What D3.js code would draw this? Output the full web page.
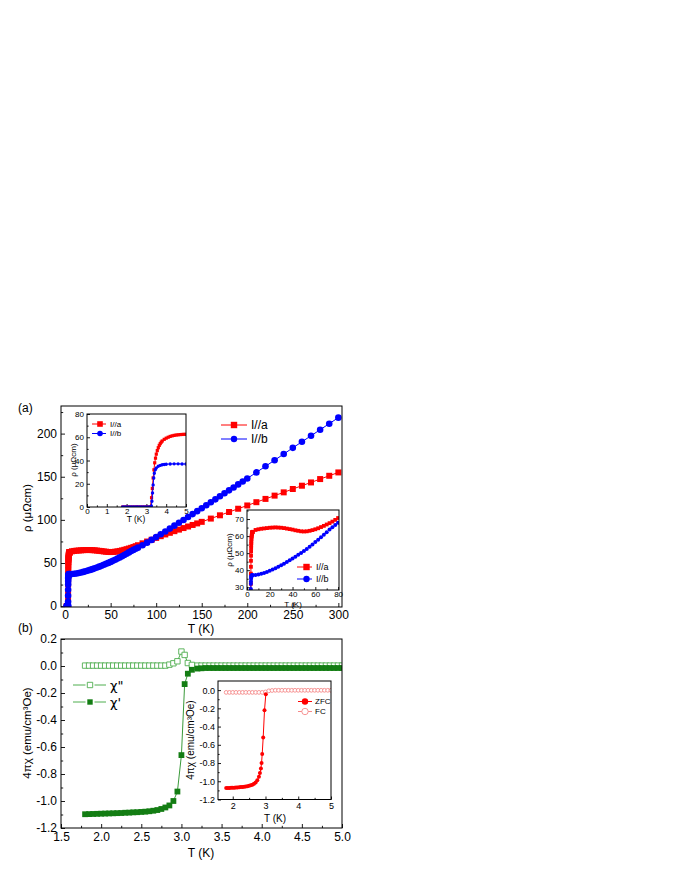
<!DOCTYPE html>
<html>
<head>
<meta charset="utf-8">
<script src="https://cdn.jsdelivr.net/npm/d3@7"></script>
<style>
  body { margin: 0; background: #fff; }
  svg { display: block; font-family: Arial, "Liberation Sans", sans-serif; }
</style>
</head>
<body>
<svg id="chart" width="680" height="880"></svg>
<script>
// ---- panel (a): resistivity, I//a (red) and I//b (blue) ----
const tA = [1.8, 1.9, 2.0, 2.1, 2.2, 2.3, 2.4, 2.5, 2.6, 2.7, 2.8, 2.9, 3.0, 3.1, 3.2,
  3.26, 3.3, 3.34, 3.38, 3.42, 3.46, 3.5, 3.55, 3.6, 3.65, 3.7, 3.75, 3.8, 3.9, 4.0,
  4.1, 4.2, 4.3, 4.4, 4.5, 4.6, 4.7, 4.8, 4.9, 5.0,
  7.5, 10, 12.5, 15, 17.5, 20, 22.5, 25, 27.5, 30, 32.5, 35, 37.5, 40, 42.5, 45, 47.5, 50,
  52.5, 55, 57.5, 60, 62.5, 65, 67.5, 70, 72.5, 75, 77.5, 80,
  85, 90, 95, 100, 105, 110, 115, 120, 125, 130, 135, 140, 145, 150,
  160, 170, 180, 190, 200, 210, 220, 230, 240, 250, 260, 270, 280, 290, 300];
const rhoA = [0, 0, 0, 0, 0, 0, 0, 0, 0, 0, 0, 0, 0, 0, 0,
  8, 16, 25, 32, 38, 42, 45.5, 48.5, 51, 53, 54.5, 55.8, 56.8, 58.2, 59.2,
  60, 60.7, 61.2, 61.6, 61.9, 62.1, 62.3, 62.4, 62.5, 62.5,
  63.6, 64, 64.3, 64.5, 64.7, 64.9, 65, 65.1, 65, 64.9, 64.7, 64.4, 64.1, 63.8, 63.4, 63.1, 62.8, 62.7,
  62.8, 63.1, 63.5, 64, 64.6, 65.3, 66, 66.8, 67.6, 68.5, 69.5, 70.6,
  72.8, 74.9, 77, 79.1, 81.1, 83.1, 85, 86.9, 88.7, 90.5, 92.3, 94.1, 95.9, 97.7,
  101.5, 105.3, 109.1, 112.9, 116.7, 120.5, 124.3, 128.1, 131.9, 135.8, 139.6, 143.4, 147.3, 151.1, 155];

const tB = [1.8, 1.9, 2.0, 2.1, 2.2, 2.3, 2.4, 2.5, 2.6, 2.7, 2.8, 2.9, 3.0, 3.1, 3.2,
  3.25, 3.28, 3.31, 3.34, 3.37, 3.4, 3.45, 3.5, 3.6, 3.7, 3.8, 3.9, 4.0, 4.2, 4.4, 4.6, 4.8, 5.0,
  7.5, 10, 12.5, 15, 17.5, 20, 22.5, 25, 27.5, 30, 32.5, 35, 37.5, 40, 42.5, 45, 47.5, 50,
  52.5, 55, 57.5, 60, 62.5, 65, 67.5, 70, 72.5, 75, 77.5, 80,
  85, 90, 95, 100, 105, 110, 115, 120, 125, 130, 135, 140, 145, 150,
  155, 160, 165, 170, 175, 180, 185, 190, 195, 200,
  210, 220, 230, 240, 250, 260, 270, 280, 290, 300];
const rhoB = [0, 0, 0, 0, 0, 0, 0, 0, 0, 0, 0, 0, 0, 0, 0,
  1, 5, 12, 19, 25, 29, 32, 33.5, 35, 35.8, 36.3, 36.6, 36.8, 37, 37.1, 37.1, 37, 37,
  37.2, 37.5, 37.9, 38.4, 39, 39.7, 40.4, 41.2, 42, 42.9, 43.8, 44.8, 45.8, 46.8, 47.9, 49, 50.1, 51.3,
  52.5, 53.8, 55.1, 56.5, 57.9, 59.3, 60.8, 62.3, 63.8, 65.2, 66.5, 67.8,
  70.5, 73.6, 76.8, 80, 83.3, 86.6, 89.9, 93.3, 96.6, 99.9, 103.3, 106.7, 110.1, 113.5,
  116.9, 120.4, 123.8, 127.3, 130.8, 134.2, 137.6, 141.1, 144.5, 148,
  155, 162.1, 169.2, 176.3, 183.5, 190.5, 197.5, 204.5, 211.5, 218.5];

const seriesA = ["I//a", "I//b"];

// ---- panel (b): ac susceptibility ----
const tChi = [1.80, 1.85, 1.90, 1.95, 2.00, 2.05, 2.10, 2.15, 2.20, 2.25, 2.30, 2.35, 2.40, 2.45,
  2.50, 2.55, 2.60, 2.65, 2.70, 2.75, 2.80, 2.85, 2.90, 2.95, 3.00, 3.04, 3.08, 3.13,
  3.20, 3.25, 3.30, 3.35, 3.40, 3.45, 3.50, 3.55, 3.60, 3.65, 3.70, 3.75, 3.80, 3.85, 3.90, 3.95,
  4.00, 4.05, 4.10, 4.15, 4.20, 4.25, 4.30, 4.35, 4.40, 4.45, 4.50, 4.55, 4.60, 4.65, 4.70, 4.75,
  4.80, 4.85, 4.90, 4.95, 5.00];
const chi2 = [0.003, 0.003, 0.003, 0.003, 0.003, 0.003, 0.003, 0.003, 0.003, 0.003, 0.003, 0.003, 0.003, 0.003,
  0.003, 0.003, 0.003, 0.003, 0.003, 0.003, 0.003, 0.01, 0.02, 0.035, 0.107, 0.082, 0.022, 0.008,
  0.003, 0.003, 0.003, 0.003, 0.003, 0.003, 0.003, 0.003, 0.003, 0.003, 0.003, 0.003, 0.003, 0.003, 0.003, 0.003,
  0.003, 0.003, 0.003, 0.003, 0.003, 0.003, 0.003, 0.003, 0.003, 0.003, 0.003, 0.003, 0.003, 0.003, 0.003, 0.003,
  0.003, 0.003, 0.003, 0.003, 0.003];
const chi1 = [-1.098, -1.097, -1.096, -1.095, -1.094, -1.093, -1.092, -1.091, -1.09, -1.089, -1.087, -1.086, -1.084, -1.083,
  -1.081, -1.079, -1.076, -1.072, -1.067, -1.059, -1.048, -1.033, -1.0, -0.93, -0.66, -0.134, -0.057, -0.028,
  -0.019, -0.017, -0.015, -0.015, -0.015, -0.015, -0.015, -0.015, -0.015, -0.015, -0.015, -0.015, -0.015, -0.015, -0.015, -0.015,
  -0.015, -0.015, -0.015, -0.015, -0.015, -0.015, -0.015, -0.015, -0.015, -0.015, -0.015, -0.015, -0.015, -0.015, -0.015, -0.015,
  -0.015, -0.015, -0.015, -0.015, -0.015];
const seriesChi = ["χ\"", "χ'"];

// inset (b): dc magnetization, ZFC and FC
const tZfc = [1.80, 1.85, 1.90, 1.95, 2.00, 2.05, 2.10, 2.15, 2.20, 2.25, 2.30, 2.35, 2.40, 2.45,
  2.50, 2.55, 2.60, 2.65, 2.70, 2.75, 2.80, 2.83, 2.86, 2.88, 2.90, 2.93, 2.97, 3.01];
const zfc = [-1.075, -1.074, -1.073, -1.072, -1.071, -1.07, -1.069, -1.068, -1.066, -1.064, -1.062, -1.06, -1.057, -1.054,
  -1.05, -1.045, -1.038, -1.028, -1.013, -0.99, -0.95, -0.91, -0.86, -0.8, -0.7, -0.52, -0.22, -0.045];
const tFc = [1.8, 1.9, 2.0, 2.1, 2.2, 2.3, 2.4, 2.5, 2.6, 2.7, 2.8, 2.9, 3.0, 3.1, 3.2, 3.3, 3.4,
  3.5, 3.6, 3.7, 3.8, 3.9, 4.0, 4.1, 4.2, 4.3, 4.4, 4.5, 4.6, 4.7, 4.8, 4.9, 5.0];
const fc = [-0.025, -0.025, -0.025, -0.025, -0.025, -0.025, -0.025, -0.025, -0.025, -0.025, -0.025, -0.025,
  -0.02, -0.008, -0.004, -0.002, -0.002, -0.002, -0.002, -0.002, -0.002, -0.002, -0.002, -0.002, -0.002,
  -0.002, -0.002, -0.002, -0.002, -0.002, -0.002, -0.002, -0.002];
const seriesMag = ["ZFC", "FC"];

const RED = "#ff0000", BLUE = "#0000ff", PINK = "#f58a8a";
const GREEN_OPEN = "#4fae4f", GREEN = "#137d13";

const svg = d3.select("#chart");
let clipCount = 0;
const fmt1 = d => d3.format(".1f")(d).replace("\u2212", "-");

function makePanel(o) {
  const g = svg.append("g");
  const x = d3.scaleLinear().domain(o.xd).range([o.l, o.r]);
  const y = d3.scaleLinear().domain(o.yd).range([o.b, o.t]);
  if (o.bg) {
    g.append("rect").attr("x", o.l).attr("y", o.t)
      .attr("width", o.r - o.l).attr("height", o.b - o.t).attr("fill", "#fff");
  }
  const id = "clip" + (clipCount++);
  svg.append("clipPath").attr("id", id).append("rect")
    .attr("x", o.l).attr("y", o.t).attr("width", o.r - o.l).attr("height", o.b - o.t);

  const fx = o.fx || (d => d);
  const fy = o.fy || (d => d);
  const style = sel => {
    sel.select(".domain").remove();
    sel.selectAll("line").attr("stroke", "#000").attr("stroke-width", 0.9);
    sel.selectAll("text").attr("font-size", o.fs).attr("font-family", null).attr("fill", "#000");
  };
  g.append("g").attr("transform", `translate(0,${o.b})`)
    .call(d3.axisBottom(x).tickValues(o.xt).tickSize(-o.tl).tickPadding(o.px).tickFormat(fx)).call(style);
  g.append("g").attr("transform", `translate(0,${o.b})`)
    .call(d3.axisBottom(x).tickValues(o.xm).tickSize(-o.tl * 0.55).tickFormat("")).call(style);
  g.append("g").attr("transform", `translate(${o.l},0)`)
    .call(d3.axisLeft(y).tickValues(o.yt).tickSize(-o.tl).tickPadding(o.py).tickFormat(fy)).call(style);
  g.append("g").attr("transform", `translate(${o.l},0)`)
    .call(d3.axisLeft(y).tickValues(o.ym).tickSize(-o.tl * 0.55).tickFormat("")).call(style);

  const plot = g.append("g").attr("clip-path", `url(#${id})`);
  return { g, x, y, plot, o };
}

function closePanel(p) {
  const o = p.o;
  p.g.append("rect").attr("x", o.l).attr("y", o.t)
    .attr("width", o.r - o.l).attr("height", o.b - o.t)
    .attr("fill", "none").attr("stroke", "#000").attr("stroke-width", 1);
}

function marker(sel, st) {
  const area = st.shape === "square" ? st.size * st.size : Math.PI * st.size * st.size / 4;
  const type = st.shape === "square" ? d3.symbolSquare : d3.symbolCircle;
  sel.attr("d", d3.symbol().type(type).size(area))
    .attr("fill", st.open ? "#fff" : st.color)
    .attr("stroke", st.open ? st.color : "none")
    .attr("stroke-width", st.open ? 0.9 : 0);
}

function drawSeries(p, xs, ys, st) {
  const pts = xs.map((t, i) => [t, ys[i]]);
  p.plot.append("path").datum(pts)
    .attr("d", d3.line().x(d => p.x(d[0])).y(d => p.y(d[1])))
    .attr("fill", "none").attr("stroke", st.line || st.color).attr("stroke-width", st.lw || 1);
  p.plot.append("g").selectAll("path").data(pts).join("path")
    .attr("transform", d => `translate(${p.x(d[0])},${p.y(d[1])})`)
    .call(marker, st);
}

function legend(names, styles, o) {
  const g = svg.append("g");
  names.forEach((name, i) => {
    const y = o.y + i * o.dy, st = styles[i];
    const c = st.line || st.color;
    if (o.gap) {
      g.append("line").attr("x1", o.x1).attr("x2", o.mx - o.gap).attr("y1", y).attr("y2", y)
        .attr("stroke", c).attr("stroke-width", 1);
      g.append("line").attr("x1", o.mx + o.gap).attr("x2", o.x2).attr("y1", y).attr("y2", y)
        .attr("stroke", c).attr("stroke-width", 1);
    } else {
      g.append("line").attr("x1", o.x1).attr("x2", o.x2).attr("y1", y).attr("y2", y)
        .attr("stroke", c).attr("stroke-width", 1);
    }
    g.append("path").attr("transform", `translate(${o.mx},${y})`)
      .call(marker, Object.assign({}, st, { size: o.ms }));
    const t = g.append("text").attr("x", o.tx).attr("y", y + o.fs * 0.36)
      .attr("font-size", o.fs).text(name);
    if (o.ff) t.attr("font-family", o.ff);
  });
}

function label(text, x, y, fs, rot, anchor) {
  const t = svg.append("text").attr("font-size", fs).attr("text-anchor", anchor || "middle").text(text);
  if (rot) t.attr("transform", `translate(${x},${y}) rotate(-90)`);
  else t.attr("x", x).attr("y", y);
  return t;
}

// ================= panel (a) =================
const stA = { shape: "square", color: RED };
const stB = { shape: "circle", color: BLUE };

const pa = makePanel({ l: 61, r: 342, t: 406, b: 607, xd: [-4.5, 304], yd: [-1, 232],
  xt: [0, 50, 100, 150, 200, 250, 300], xm: [25, 75, 125, 175, 225, 275],
  yt: [0, 50, 100, 150, 200], ym: [25, 75, 125, 175, 225], tl: 4, fs: 12, px: 3, py: 4 });
drawSeries(pa, tA, rhoA, Object.assign({}, stA, { size: 6 }));
drawSeries(pa, tB, rhoB, Object.assign({}, stB, { size: 6.6 }));
closePanel(pa);
legend(seriesA, [stA, stB], { x1: 221, x2: 247, mx: 234, tx: 251, y: 425, dy: 14, ms: 6.4, fs: 12 });
label("ρ (μΩcm)", 31, 508, 11.5, true);
label("T (K)", 201, 632.5, 12);
label("(a)", 18, 412, 12, false, "start");

// inset: 0 - 5 K
const pa1 = makePanel({ l: 87, r: 186, t: 414, b: 507, xd: [0, 5], yd: [0, 80], bg: true,
  xt: [0, 1, 2, 3, 4, 5], xm: [0.5, 1.5, 2.5, 3.5, 4.5],
  yt: [0, 20, 40, 60, 80], ym: [10, 30, 50, 70], tl: 3, fs: 8, px: 1, py: 3 });
drawSeries(pa1, tA, rhoA, Object.assign({}, stA, { size: 3.2 }));
drawSeries(pa1, tB, rhoB, Object.assign({}, stB, { size: 3.4 }));
closePanel(pa1);
legend(seriesA, [stA, stB], { x1: 92, x2: 106, mx: 100, tx: 110, y: 424, dy: 9.5, ms: 5.6, fs: 8 });
label("ρ (μΩcm)", 76, 460, 8, true);
label("T (K)", 136, 522, 8.5);

// inset: 0 - 80 K
const pa2 = makePanel({ l: 247, r: 339, t: 510, b: 590, xd: [0, 80.8], yd: [28.4, 75.3], bg: true,
  xt: [0, 20, 40, 60, 80], xm: [10, 30, 50, 70],
  yt: [30, 40, 50, 60, 70], ym: [35, 45, 55, 65, 75], tl: 3, fs: 8, px: 1, py: 3 });
drawSeries(pa2, tA, rhoA, Object.assign({}, stA, { size: 3.8 }));
drawSeries(pa2, tB, rhoB, Object.assign({}, stB, { size: 4 }));
closePanel(pa2);
legend(seriesA, [stA, stB], { x1: 297, x2: 312, mx: 306.5, tx: 316, y: 567, dy: 12, ms: 6.4, fs: 9 });
label("ρ (μΩcm)", 232, 550, 8, true);
label("T (K)", 293, 606.5, 8);

// ================= panel (b) =================
const stChi2 = { shape: "square", color: GREEN_OPEN, open: true };
const stChi1 = { shape: "square", color: GREEN, line: "#3a9a3a" };

const pb = makePanel({ l: 61, r: 342, t: 639, b: 828, xd: [1.5, 5], yd: [-1.2, 0.2],
  xt: [1.5, 2, 2.5, 3, 3.5, 4, 4.5, 5], xm: [1.75, 2.25, 2.75, 3.25, 3.75, 4.25, 4.75],
  yt: [-1.2, -1.0, -0.8, -0.6, -0.4, -0.2, 0, 0.2], ym: [-1.1, -0.9, -0.7, -0.5, -0.3, -0.1, 0.1],
  tl: 4, fs: 12, px: 4, py: 4, fx: fmt1, fy: fmt1 });
drawSeries(pb, tChi, chi2, Object.assign({}, stChi2, { size: 5.4 }));
drawSeries(pb, tChi, chi1, Object.assign({}, stChi1, { size: 5.8 }));
closePanel(pb);
legend(seriesChi, [stChi2, Object.assign({}, stChi1, { line: GREEN_OPEN })],
  { x1: 73, x2: 106, mx: 90, gap: 4.5, tx: 110, y: 685, dy: 17, ms: 5.4, fs: 13, ff: "'DejaVu Sans', sans-serif" });
label("4πχ (emu/cm³Oe)", 31, 733, 11.5, true);
label("T (K)", 201, 857, 12);
label("(b)", 18, 632, 12, false, "start");

// inset: ZFC / FC
const stZfc = { shape: "circle", color: RED };
const stFc = { shape: "circle", color: PINK, open: true };
const pb1 = makePanel({ l: 218, r: 331, t: 681, b: 799.5, xd: [1.55, 5], yd: [-1.2, 0.1], bg: true,
  xt: [2, 3, 4, 5], xm: [2.5, 3.5, 4.5],
  yt: [-1.2, -1.0, -0.8, -0.6, -0.4, -0.2, 0], ym: [-1.1, -0.9, -0.7, -0.5, -0.3, -0.1],
  tl: 3, fs: 9, px: 3, py: 3, fy: fmt1 });
drawSeries(pb1, tFc, fc, Object.assign({}, stFc, { size: 3.8 }));
drawSeries(pb1, tZfc, zfc, Object.assign({}, stZfc, { size: 4 }));
closePanel(pb1);
legend(seriesMag, [stZfc, stFc], { x1: 298, x2: 312, mx: 305, tx: 315, y: 701.5, dy: 10, ms: 6.4, fs: 8 });
label("4πχ (emu/cm³Oe)", 194, 740, 10, true);
label("T (K)", 275, 822, 10);
</script>
</body>
</html>
